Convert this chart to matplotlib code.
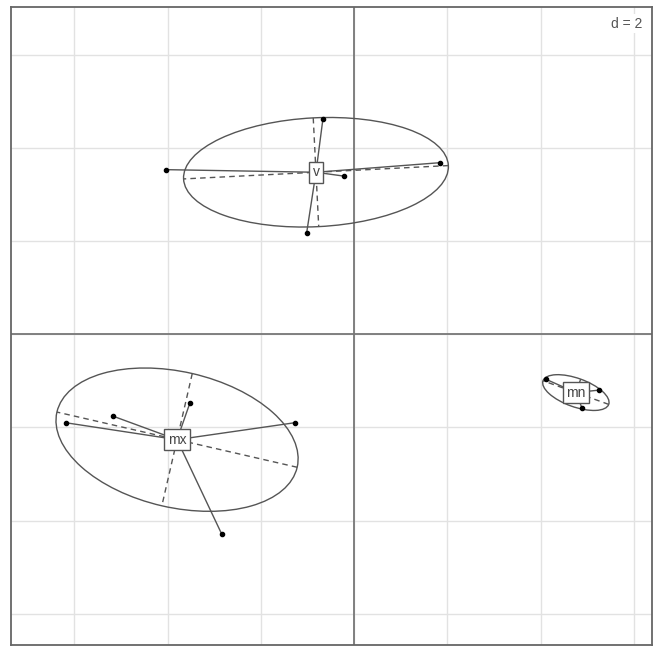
import numpy as np
import matplotlib.pyplot as plt
from matplotlib.patches import Ellipse

plt.rcParams['font.family'] = ['Liberation Sans', 'DejaVu Sans']

# class labels and the coordinates of their rows
classes = ["v", "mx", "mn"]
v_x = [-4.04, 1.85, -0.67, -1.02, -0.21]
v_y = [3.53, 3.68, 4.61, 2.16, 3.39]
mx_x = [-6.19, -5.17, -3.52, -1.27, -2.84]
mx_y = [-1.90, -1.76, -1.47, -1.90, -4.29]
mn_x = [4.12, 5.26, 4.89]
mn_y = [-0.97, -1.20, -1.59]
grid_d = 2
x_lim = (-7.36, 6.39)
y_lim = (-6.67, 7.02)

groups = {"v": (v_x, v_y), "mx": (mx_x, mx_y), "mn": (mn_x, mn_y)}
cellipse = 1.5
col = "#555555"

fig = plt.figure(figsize=(6.58, 6.46), dpi=100)
ax = fig.add_axes([11 / 658, 1 / 646, 641 / 658, 638 / 646])
ax.set_xlim(*x_lim)
ax.set_ylim(*y_lim)

# background grid
for g in np.arange(-6, 7, grid_d):
    ax.axvline(g, color="#e2e2e2", lw=1, zorder=0)
    ax.axhline(g, color="#e2e2e2", lw=1, zorder=0)
ax.axvline(0, color="#777777", lw=1.3, zorder=1)
ax.axhline(0, color="#777777", lw=1.3, zorder=1)

for name in classes:
    x = np.asarray(groups[name][0])
    y = np.asarray(groups[name][1])
    mx, my = x.mean(), y.mean()
    cov = np.cov(np.vstack([x, y]), bias=True)
    vals, vecs = np.linalg.eigh(cov)

    # stars
    for xi, yi in zip(x, y):
        ax.plot([mx, xi], [my, yi], color=col, lw=1, zorder=3)
    ax.scatter(x, y, s=9, color="black", zorder=4)

    # ellipse and its axes
    angle = np.degrees(np.arctan2(vecs[1, 1], vecs[0, 1]))
    w = 2 * cellipse * np.sqrt(vals[1])
    h = 2 * cellipse * np.sqrt(vals[0])
    ax.add_patch(Ellipse((mx, my), w, h, angle=angle, fill=False,
                         edgecolor=col, lw=1, zorder=2))
    for k in range(2):
        r = cellipse * np.sqrt(vals[k])
        dx, dy = vecs[0, k] * r, vecs[1, k] * r
        ax.plot([mx - dx, mx + dx], [my - dy, my + dy], color=col,
                lw=1, ls=(0, (4, 3)), zorder=2)

    ax.text(mx, my, name, ha="center", va="center", fontsize=10,
            color="#444444", zorder=5,
            bbox=dict(boxstyle="square,pad=0.25", fc="white", ec=col, lw=1))

ax.text(0.985, 0.985, f"d = {grid_d}", transform=ax.transAxes, ha="right",
        va="top", fontsize=10, color="#555555", zorder=5,
        bbox=dict(boxstyle="square,pad=0.2", fc="white", ec="none"))

ax.set_xticks([])
ax.set_yticks([])
for s in ax.spines.values():
    s.set_color("#666666")
    s.set_linewidth(1.3)

fig.savefig("out.png", dpi=100)
